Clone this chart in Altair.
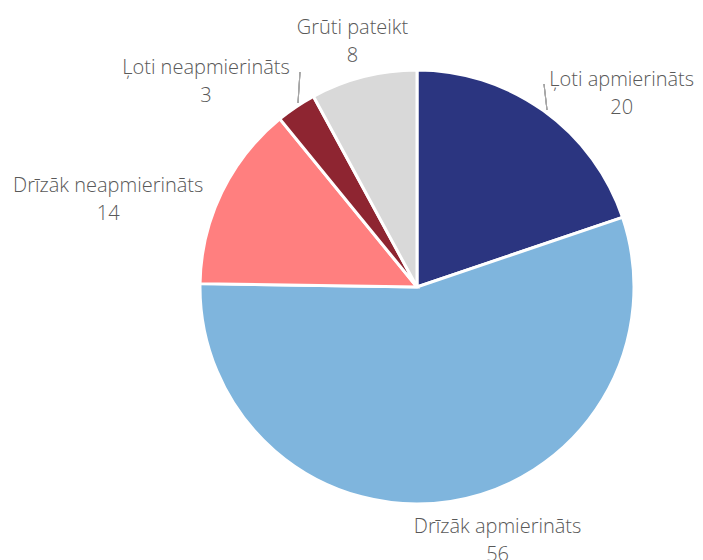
import math
import altair as alt
import pandas as pd

categories = ["Ļoti apmierināts", "Drīzāk apmierināts", "Drīzāk neapmierināts",
              "Ļoti neapmierināts", "Grūti pateikt"]
values = [20, 56, 14, 3, 8]
colors = ["#2B3580", "#7FB5DD", "#FF7F7F", "#8E2531", "#D9D9D9"]

total = sum(values)
cum = 0
mids = []
for v in values:
    mids.append((cum + v / 2) / total * 2 * math.pi)
    cum += v

df = pd.DataFrame({
    "category": categories,
    "value": values,
    "order": list(range(len(values))),
    "mid": mids,
    "label": [f"{c}\n{v}" for c, v in zip(categories, values)],
})

CX, CY, R = 409, 279, 217
LABEL_R = 262
FONT = "Open Sans"
TXT = "#595959"

base = alt.Chart(df)

pie = base.mark_arc(outerRadius=R, stroke="white", strokeWidth=3).encode(
    theta=alt.Theta("value:Q", stack=True),
    color=alt.Color("category:N", scale=alt.Scale(domain=categories, range=colors), legend=None),
    order=alt.Order("order:Q"),
    x=alt.value(CX),
    y=alt.value(CY),
)

offsets = {
    "Ļoti apmierināts": (52, 6),
    "Drīzāk apmierināts": (40, -19),
    "Drīzāk neapmierināts": (-73, 13),
    "Ļoti neapmierināts": (-65, -1),
    "Grūti pateikt": (0, -5),
}

labels = []
for c in categories:
    dx, dy = offsets[c]
    labels.append(
        base.transform_filter(alt.datum.category == c).mark_text(
            radius=LABEL_R, dx=dx, dy=dy, font=FONT, fontSize=20, fontWeight=300,
            color=TXT, lineBreak="\n", lineHeight=28, align="center", baseline="middle",
        ).encode(
            theta=alt.Theta("mid:Q", scale=None),
            text="label:N",
            x=alt.value(CX),
            y=alt.value(CY),
        )
    )

leaders = [
    base.mark_rule(color="#A6A6A6", strokeWidth=1).encode(
        x=alt.value(536), y=alt.value(76), x2=alt.value(539), y2=alt.value(102)),
    base.mark_rule(color="#A6A6A6", strokeWidth=1).encode(
        x=alt.value(292), y=alt.value(64), x2=alt.value(290), y2=alt.value(95)),
]

chart = alt.layer(pie, *labels, *leaders).resolve_scale(theta="independent").properties(
    width=687, height=560, autosize=alt.AutoSizeParams(type="none"), padding=0,
).configure_view(stroke=None)

chart.save("out.html", embed_options={"renderer": "svg", "actions": False})
